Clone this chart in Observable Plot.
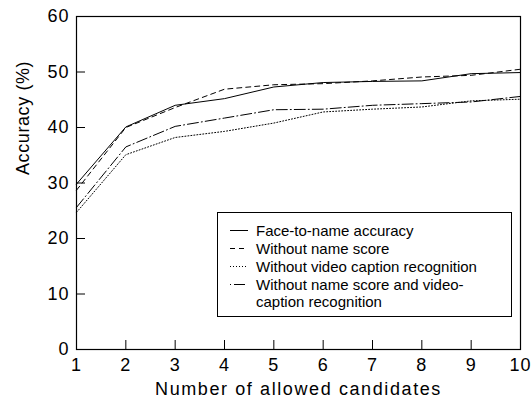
<!DOCTYPE html>
<html>
<head>
<meta charset="utf-8">
<script src="https://cdn.jsdelivr.net/npm/d3@7"></script>
<script src="https://cdn.jsdelivr.net/npm/@observablehq/plot@0.6"></script>
<style>
  html, body { margin: 0; padding: 0; background: #fff; }
  #wrap { position: relative; width: 532px; height: 400px; font-family: "Liberation Sans", Arial, sans-serif; }
  #legend { position: absolute; left: 217px; top: 212px; width: 293px; height: 103px; border: 1px solid #000; background: #fff; font-size: 15px; color: #000; }
  .row { position: absolute; left: 0; height: 18px; display: flex; align-items: center; }
  .row svg { margin-left: 12px; margin-right: 8px; }
  .cont { position: absolute; left: 38px; font-size: 15px; }
</style>
</head>
<body>
<div id="wrap"></div>
<script>
const candidates = [1, 2, 3, 4, 5, 6, 7, 8, 9, 10];
const faceToName = [29.8, 40.1, 44.0, 45.2, 47.3, 48.1, 48.3, 48.4, 49.7, 49.9];
const withoutNameScore = [28.7, 40.0, 43.6, 46.9, 47.7, 47.9, 48.4, 49.1, 49.4, 50.5];
const withoutCaption = [24.7, 35.1, 38.2, 39.3, 40.8, 42.8, 43.3, 43.7, 44.8, 45.1];
const withoutBoth = [25.6, 36.5, 40.2, 41.7, 43.2, 43.3, 44.0, 44.3, 44.6, 45.6];
const seriesNames = [
  "Face-to-name accuracy",
  "Without name score",
  "Without video caption recognition",
  "Without name score and video-"
];
const seriesNameCont = "caption recognition";
const xTicks = [1, 2, 3, 4, 5, 6, 7, 8, 9, 10];
const yTicks = [0, 10, 20, 30, 40, 50, 60];
const xLabel = "Number of allowed candidates";
const yLabel = "Accuracy (%)";

const dashes = [null, "5,4", "1,2", "11,3,1,3"];
const seriesValues = [faceToName, withoutNameScore, withoutCaption, withoutBoth];

const W = 532, H = 400, mL = 76, mR = 12, mT = 16, mB = 51;
const innerW = W - mL - mR, innerH = H - mT - mB;

const lineMarks = seriesValues.map((vals, i) =>
  Plot.line(candidates.map((c, j) => ({x: c, y: vals[j]})), {
    x: "x", y: "y", stroke: "#000", strokeWidth: 1,
    strokeDasharray: dashes[i] || undefined
  })
);

const chart = Plot.plot({
  width: W, height: H,
  marginLeft: mL, marginRight: mR, marginTop: mT, marginBottom: mB,
  style: {fontFamily: "'Liberation Sans', Arial, sans-serif", fontSize: "18px", background: "#fff", color: "#000", overflow: "visible"},
  x: {domain: [1, 10]},
  y: {domain: [0, 60]},
  marks: [
    ...lineMarks,
    Plot.tickX(xTicks, {x: d => d, stroke: "#000", insetTop: innerH - 9}),
    Plot.tickY(yTicks, {y: d => d, stroke: "#000", insetRight: innerW - 9}),
    Plot.frame({stroke: "#000", strokeWidth: 1.2}),
    Plot.axisX({ticks: xTicks, tickSize: 0, tickPadding: 9, label: null, fontSize: 18}),
    Plot.axisY({ticks: yTicks, tickSize: 0, tickPadding: 7, label: null, fontSize: 18}),
    Plot.text([xLabel], {text: d => d, frameAnchor: "bottom", lineAnchor: "middle", dy: 40, fontSize: 18}),
    Plot.text([yLabel], {text: d => d, frameAnchor: "left", rotate: -90, dx: -53, dy: -8, fontSize: 18})
  ]
});

// widen letter spacing of the axis titles and tick labels to match the reference rendering
d3.select(chart).selectAll("text").each(function() {
  const t = this.textContent;
  if (t === xLabel) this.setAttribute("letter-spacing", "1.6px");
  else if (t === yLabel) this.setAttribute("letter-spacing", "0.6px");
});
d3.select(chart).selectAll("g[aria-label='x-axis tick label'] text, g[aria-label='y-axis tick label'] text")
  .attr("letter-spacing", "1px");

const wrap = document.getElementById("wrap");
wrap.appendChild(chart);

// legend
const legend = document.createElement("div");
legend.id = "legend";
const rowCenters = [17, 35, 53, 71];
seriesNames.forEach((name, i) => {
  const row = document.createElement("div");
  row.className = "row";
  row.style.top = (rowCenters[i] - 9) + "px";
  const ns = "http://www.w3.org/2000/svg";
  const s = document.createElementNS(ns, "svg");
  s.setAttribute("width", 18); s.setAttribute("height", 18);
  const l = document.createElementNS(ns, "line");
  l.setAttribute("x1", 0); l.setAttribute("x2", 18);
  l.setAttribute("y1", 9.5); l.setAttribute("y2", 9.5);
  l.setAttribute("stroke", "#000"); l.setAttribute("stroke-width", 1);
  if (dashes[i]) l.setAttribute("stroke-dasharray", i === 3 ? "1,3,11,3" : dashes[i]);
  s.appendChild(l);
  row.appendChild(s);
  const t = document.createElement("span");
  t.textContent = name;
  row.appendChild(t);
  legend.appendChild(row);
});
const cont = document.createElement("div");
cont.className = "cont";
cont.style.top = (89 - 9) + "px";
cont.style.lineHeight = "18px";
cont.textContent = seriesNameCont;
legend.appendChild(cont);
wrap.appendChild(legend);
</script>
</body>
</html>
